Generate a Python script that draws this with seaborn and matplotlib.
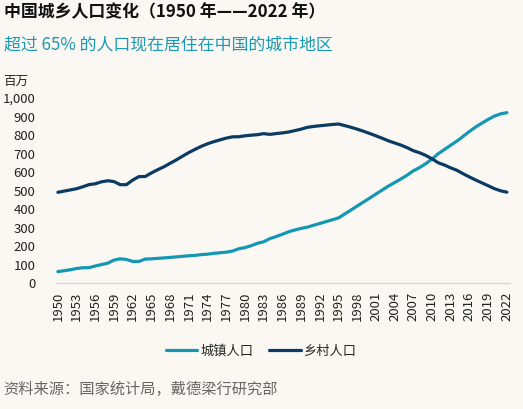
import pandas as pd
import seaborn as sns
import matplotlib.pyplot as plt

# 国家统计局 城乡人口（百万）
years = list(range(1950, 2023))
urban = [61.69, 66.32, 71.63, 78.26, 82.49, 82.85, 91.85, 99.49, 107.21, 123.71,
         130.73, 127.07, 116.59, 116.46, 129.50, 130.45, 133.13, 135.48, 138.38, 141.17,
         144.24, 147.11, 149.35, 153.45, 155.95, 160.30, 163.41, 166.69, 172.45, 184.95,
         191.40, 201.71, 214.80, 222.74, 240.17, 250.94, 263.66, 276.74, 286.61, 295.40,
         301.95, 312.03, 321.75, 331.73, 341.69, 351.74, 373.04, 394.49, 416.08, 437.48,
         459.06, 480.64, 502.12, 523.76, 542.83, 562.12, 582.88, 606.33, 624.03, 645.12,
         669.78, 699.27, 721.75, 745.02, 767.38, 793.02, 819.24, 843.43, 864.33, 884.26,
         902.20, 914.25, 920.71]
rural = [490.27, 496.68, 503.19, 509.70, 520.17, 531.80, 536.43, 547.04, 552.73, 548.36,
         531.34, 531.52, 556.36, 575.26, 575.49, 594.93, 612.29, 628.20, 646.96, 665.54,
         685.68, 705.18, 722.42, 738.66, 752.64, 763.90, 773.76, 783.05, 790.14, 790.47,
         795.65, 799.01, 801.74, 807.34, 803.40, 807.57, 811.41, 816.26, 823.65, 831.64,
         841.38, 846.20, 849.96, 853.44, 856.81, 859.47, 850.85, 841.77, 831.53, 820.38,
         808.37, 795.63, 782.41, 768.51, 757.05, 745.44, 731.60, 714.96, 703.99, 689.38,
         671.13, 649.89, 637.47, 622.24, 609.08, 590.24, 573.08, 556.68, 541.08, 525.82,
         509.92, 498.35, 491.04]
series_names = ["城镇人口", "乡村人口"]
series_colors = ["#1497b3", "#0b3a63"]
tick_years = list(range(1950, 2023, 3))
y_ticks = list(range(0, 1001, 100))

df = pd.DataFrame({"年份": years * 2,
                   "人口": urban + rural,
                   "类别": [series_names[0]] * len(years) + [series_names[1]] * len(years)})

bg = "#fbf8f3"
sns.set_theme(style="white")
plt.rcParams["font.family"] = ["Noto Sans CJK SC", "DejaVu Sans"]

fig = plt.figure(figsize=(5.23, 4.09), dpi=100, facecolor=bg)
ax = fig.add_axes([56 / 523, 1 - 283 / 409, (510 - 56) / 523, (283 - 98) / 409])
ax.set_facecolor("none")

sns.lineplot(data=df, x="年份", y="人口", hue="类别", palette=series_colors,
             linewidth=2.3, ax=ax, legend=False)

ax.set_xlim(1949.7, 2022.5)
ax.set_ylim(0, 1000)
ax.set_xticks(tick_years)
ax.set_xticklabels([str(y) for y in tick_years], rotation=90, fontsize=9.5, color="#222222")
ax.set_yticks(y_ticks)
ax.set_yticklabels([f"{v:,}" for v in y_ticks], fontsize=9.5, color="#222222")
ax.tick_params(axis="both", length=0)
ax.tick_params(axis="y", pad=15)
ax.tick_params(axis="x", pad=6)
ax.set_xlabel("")
ax.set_ylabel("")
for s in ["top", "right", "left"]:
    ax.spines[s].set_visible(False)
ax.spines["bottom"].set_color("#d6d6d6")
ax.spines["bottom"].set_linewidth(1)

fig.text(4 / 523, 1 - 12 / 409, "中国城乡人口变化（1950 年——2022 年）", fontsize=12.2,
         fontweight="bold", color="#111111", va="center", ha="left")
fig.text(4 / 523, 1 - 45 / 409, "超过 65% 的人口现在居住在中国的城市地区", fontsize=12.2,
         color="#1b9ab5", va="center", ha="left")
fig.text(3 / 523, 1 - 81 / 409, "百万", fontsize=9, color="#222222", va="center", ha="left")

# 图例
handles = [plt.Line2D([], [], color=c, linewidth=2.3) for c in series_colors]
fig.legend(handles, series_names, loc="center", bbox_to_anchor=(261 / 523, 1 - 351 / 409),
           ncol=2, frameon=False, fontsize=9.5, handlelength=2.4, handletextpad=0.2,
           columnspacing=1.2)

fig.text(3 / 523, 1 - 389 / 409, "资料来源：国家统计局，戴德梁行研究部", fontsize=11,
         color="#666666", va="center", ha="left")

fig.savefig("out.png", dpi=100, facecolor=bg)
